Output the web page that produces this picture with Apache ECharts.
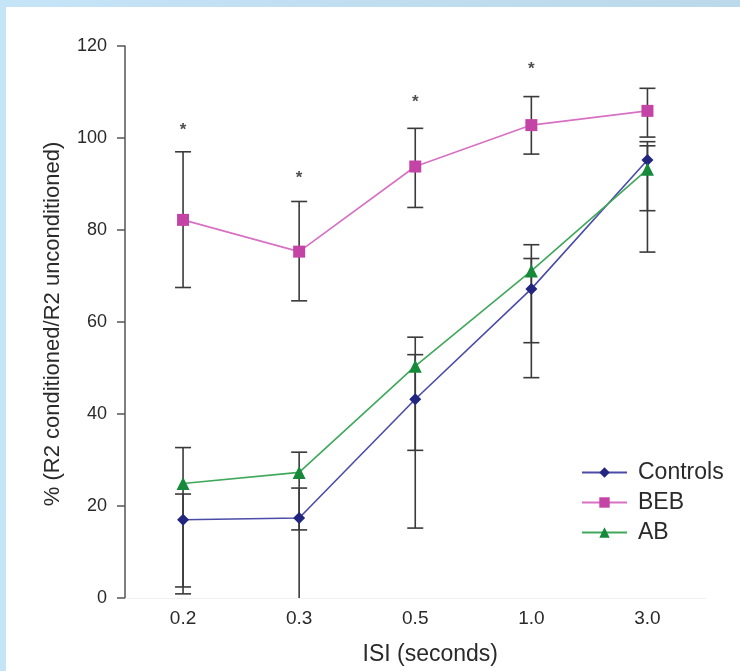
<!DOCTYPE html>
<html>
<head>
<meta charset="utf-8">
<script src="https://cdn.jsdelivr.net/npm/echarts@6/dist/echarts.min.js"></script>
<style>
  html, body { margin: 0; padding: 0; }
  body { width: 740px; height: 671px; position: relative; overflow: hidden;
         background: linear-gradient(to right, #c6e4f7, #bcd8eb); }
  #panel { position: absolute; left: 6px; top: 7px; right: 0; bottom: 0; background: #ffffff; }
  #chart { position: absolute; left: 0; top: 0; width: 740px; height: 671px; }
</style>
</head>
<body>
<div id="panel"></div>
<div id="chart"></div>
<script>
const categories = ['0.2', '0.3', '0.5', '1.0', '3.0'];
const seriesNames = ['Controls', 'BEB', 'AB'];

const controls = [17.0, 17.4, 43.2, 67.2, 95.2];
const beb = [82.2, 75.3, 93.8, 102.8, 105.9];
const ab = [24.9, 27.3, 50.4, 71.1, 93.2];

const controlsLow = [0.9, -3, 15.2, 47.9, 75.2];
const controlsHigh = [22.6, 23.9, 52.9, 73.8, 99.2];
const bebLow = [67.5, 64.6, 84.9, 96.5, 100.2];
const bebHigh = [97.0, 86.2, 102.1, 109.0, 110.8];
const abLow = [2.4, 14.8, 32.1, 55.5, 84.2];
const abHigh = [32.7, 31.7, 56.7, 76.8, 98.3];

const yMin = 0, yMax = 120, yStep = 20;

const sigIndex = [0, 1, 2, 3];
const sigY = [101.7, 91.3, 107.7, 115.0];

const yTitle = '% (R2 conditioned/R2 unconditioned)';
const xTitle = 'ISI (seconds)';

const FONT = 'Liberation Sans';
const ERR_COLOR = '#3a3a3a';

function errData(lo, hi) {
  return categories.map((c, i) => [i, lo[i], hi[i]]);
}

function renderErr(params, api) {
  const x = api.value(0);
  const lo = api.coord([x, api.value(1)]);
  const hi = api.coord([x, api.value(2)]);
  const w = 8;
  const st = { stroke: ERR_COLOR, lineWidth: 1.6 };
  return {
    type: 'group',
    children: [
      { type: 'line', shape: { x1: lo[0], y1: lo[1], x2: hi[0], y2: hi[1] }, style: st },
      { type: 'line', shape: { x1: hi[0] - w, y1: hi[1], x2: hi[0] + w, y2: hi[1] }, style: st },
      { type: 'line', shape: { x1: lo[0] - w, y1: lo[1], x2: lo[0] + w, y2: lo[1] }, style: st }
    ]
  };
}

function errSeries(lo, hi) {
  return {
    type: 'custom',
    renderItem: renderErr,
    data: errData(lo, hi),
    encode: { x: 0, y: [1, 2] },
    clip: true,
    z: 1,
    silent: true
  };
}

function lineSeries(name, data, symbol, size, lineColor, markColor) {
  return {
    name: name,
    type: 'line',
    data: data,
    symbol: symbol,
    symbolSize: size,
    showSymbol: true,
    lineStyle: { color: lineColor, width: 1.6 },
    itemStyle: { color: markColor, borderWidth: 0 },
    z: 3,
    silent: true
  };
}

const chart = echarts.init(document.getElementById('chart'), null, { renderer: 'canvas' });
chart.setOption({
  animation: false,
  backgroundColor: 'transparent',
  textStyle: { fontFamily: FONT },
  grid: { left: 125, right: 34.5, top: 46, bottom: 72, containLabel: false },
  legend: {
    data: seriesNames,
    orient: 'vertical',
    left: 581,
    top: 461,
    padding: 0,
    itemWidth: 45,
    itemHeight: 13,
    itemGap: 7,
    textStyle: { fontFamily: FONT, fontSize: 23, color: '#2a2a2a', padding: [0, 0, 0, 6] },
    selectedMode: false
  },
  graphic: [
    {
      type: 'text',
      x: 53,
      y: 324,
      rotation: Math.PI / 2,
      silent: true,
      style: {
        text: yTitle,
        fill: '#2a2a2a',
        font: '22px "Liberation Sans"',
        align: 'center',
        verticalAlign: 'middle'
      }
    }
  ],
  xAxis: {
    type: 'category',
    data: categories,
    boundaryGap: true,
    axisLine: { show: true, lineStyle: { color: '#f0f0f0', width: 1 } },
    axisTick: { show: false },
    axisLabel: { color: '#2a2a2a', fontSize: 19, margin: 11, fontFamily: FONT },
    name: xTitle,
    nameLocation: 'middle',
    nameGap: 45,
    nameTextStyle: { color: '#2a2a2a', fontSize: 23, fontFamily: FONT, padding: [0, 0, 0, 30] },
    splitLine: { show: false }
  },
  yAxis: {
    type: 'value',
    min: yMin,
    max: yMax,
    interval: yStep,
    axisLine: { show: true, lineStyle: { color: '#555555', width: 1.5 } },
    axisTick: { show: true, length: 8, lineStyle: { color: '#555555', width: 1.5 } },
    axisLabel: { color: '#2a2a2a', fontSize: 18, margin: 18, fontFamily: FONT },
    splitLine: { show: false }
  },
  series: [
    errSeries(controlsLow, controlsHigh),
    errSeries(bebLow, bebHigh),
    errSeries(abLow, abHigh),
    lineSeries('Controls', controls, 'diamond', 12, '#4a4ca8', '#22267f'),
    lineSeries('BEB', beb, 'rect', 12, '#d870c4', '#c444a6'),
    lineSeries('AB', ab, 'triangle', 13, '#3fa85a', '#16893a'),
    {
      type: 'scatter',
      data: sigIndex.map((c, i) => [c, sigY[i]]),
      symbolSize: 0,
      silent: true,
      label: {
        show: true,
        position: 'inside',
        formatter: '*',
        fontSize: 17,
        fontWeight: 'bold',
        color: '#222222',
        fontFamily: FONT
      },
      z: 4
    }
  ]
});
</script>
</body>
</html>
